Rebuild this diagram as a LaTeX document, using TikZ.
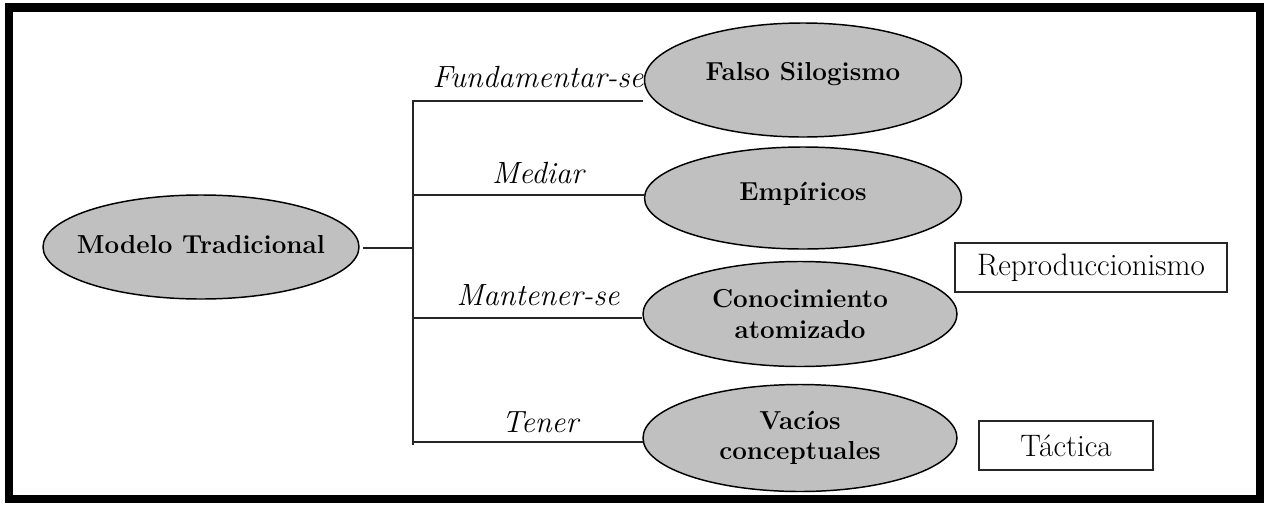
\documentclass[tikz,border=0pt]{standalone}
\usepackage{tikz}
\usetikzlibrary{shapes.geometric}
\definecolor{ovalgray}{HTML}{C0C0C0}
\tikzset{
  oval/.style={ellipse, draw=black, line width=1.1pt, fill=ovalgray, inner sep=0pt, align=center,
    font=\fontsize{19.5}{23}\selectfont\bfseries},
  relabel/.style={anchor=base, inner sep=0pt, font=\fontsize{23}{27}\selectfont\itshape},
  tagbox/.style={draw=black!85, line width=1pt, fill=white, inner sep=0pt, font=\fontsize{23.3}{27}\selectfont},
  conn/.style={draw=black!85, line width=1.3pt},
}
\begin{document}
\begin{tikzpicture}[x=0.75pt, y=-0.75pt]
\useasboundingbox (0,0) rectangle (1267,504);
\fill[white] (0,0) rectangle (1267,504);
% outer frame
\draw[black, line width=6.4pt] (9,7.5) rectangle (1260,499);

% ellipses
\node[oval, minimum width=237pt, minimum height=78pt, text height=13.4pt, text depth=4.3pt] (M) at (201,247) {\makebox[0pt][c]{Modelo Tradicional}};
\node[oval, minimum width=237.75pt, minimum height=85.5pt, text height=4pt, text depth=4pt] (F) at (803,80) {Falso Silogismo};
\node[oval, minimum width=237.75pt, minimum height=76.5pt, text height=6pt, text depth=3pt] (E) at (803,198) {Emp\'{\i}ricos};
\node[oval, minimum width=235.5pt, minimum height=78.75pt] (C) at (800,314) {Conocimiento\\atomizado};
\node[oval, minimum width=235.5pt, minimum height=80.25pt] (V) at (800,438) {Vac\'{\i}os\\conceptuales};

% boxes
\node[tagbox, minimum width=204pt, minimum height=36.75pt] (R) at (1091,267.5) {Reproduccionismo};
\node[tagbox, minimum width=130.5pt, minimum height=36.75pt] (T) at (1066,445.5) {T\'actica};

% trunk and branch points
\coordinate (mL) at (363,248);
\coordinate (bM) at (413,248);
\coordinate (tTop) at (413,100);
\coordinate (tBot) at (413,445);
\coordinate (b1) at (413,101);
\coordinate (b2) at (413,195);
\coordinate (b3) at (413,318);
\coordinate (b4) at (413,442);
\coordinate (e1) at (643,101);
\coordinate (e2) at (645,195);
\coordinate (e3) at (642,318);
\coordinate (e4) at (643,442);

\draw[conn] (mL) -- (bM);
\draw[conn] (tTop) -- (tBot);
\draw[conn] (b1) -- (e1);
\draw[conn] (b2) -- (e2);
\draw[conn] (b3) -- (e3);
\draw[conn] (b4) -- (e4);

% relation labels
\node[relabel] (l1) at (538,87) {Fundamentar-se};
\node[relabel] (l2) at (538,183) {Mediar};
\node[relabel] (l3) at (538,305) {Mantener-se};
\node[relabel] (l4) at (540,432) {Tener};
\end{tikzpicture}
\end{document}
